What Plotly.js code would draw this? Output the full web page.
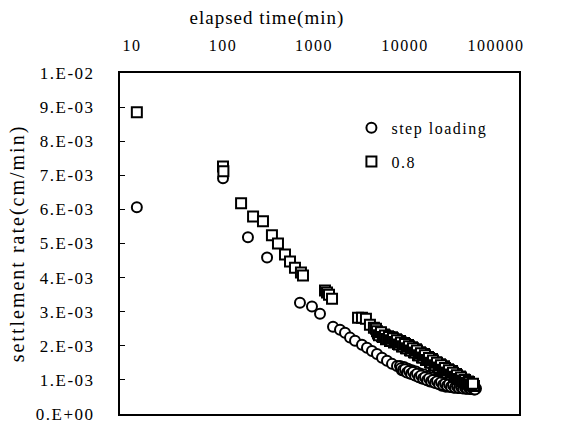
<!DOCTYPE html>
<html>
<head>
<meta charset="utf-8">
<script src="https://cdn.plot.ly/plotly-3.0.1.min.js"></script>
<style>
html,body{margin:0;padding:0;background:#fff;}
#chart{width:562px;height:426px;}
.xtick text,.ytick text,.legendtext{letter-spacing:1.5px;}
.gtitle{letter-spacing:1px;}
.ytitle{letter-spacing:2px;}
</style>
</head>
<body>
<div id="chart"></div>
<script>
// elapsed time (min) and settlement rate (cm/min)
const stepTime = [11.3, 100, 188, 305, 701, 950, 1164,
  1618, 1931, 2192, 2488, 2825, 3367, 3822, 4338, 4924, 5589, 6344, 7200, 8172,
  8812, 9268, 9750, 10257, 10789, 11349, 11938, 12558, 13210, 13896,
  14617, 15376, 16174, 17014, 17897, 18826, 19804, 20832, 21913, 23050,
  24247, 25506, 26830, 28223, 29688, 31230, 32851, 34556, 36350, 38237,
  40222, 42300, 44500, 46800, 49200, 51800, 54500, 57300, 60300,
  9038, 9506, 10000, 10521, 11066, 11640, 12244, 12880, 13549, 14252,
  14992, 15770, 16589, 17450, 18356, 19309, 20312, 21366, 22475, 23642,
  24870, 26161, 27519, 28947, 30450, 32031, 33694, 35443, 37283, 39218,
  41254, 43396, 45649, 48019, 50512, 53134, 55893, 58795];
const stepRate = [0.00606, 0.00691, 0.00518, 0.00459, 0.00326, 0.00315, 0.00294,
  0.00256, 0.00247, 0.00238, 0.00224, 0.00215, 0.00203, 0.00194, 0.00185, 0.00176, 0.00165, 0.00156, 0.00147, 0.00141,
  0.00141, 0.00128, 0.00138, 0.00124, 0.00133, 0.00119, 0.00128, 0.00116, 0.00125, 0.00110,
  0.00119, 0.00104, 0.00116, 0.00101, 0.00110, 0.00095, 0.00107, 0.00092, 0.00101, 0.00089,
  0.00098, 0.00083, 0.00095, 0.00080, 0.00092, 0.00079, 0.00088, 0.00077, 0.00085, 0.00076,
  0.00082, 0.00076, 0.00081, 0.00074, 0.00079, 0.00073, 0.00077, 0.00072, 0.00075,
  0.00134, 0.00129, 0.00131, 0.00122, 0.00126, 0.00118, 0.00123, 0.00113, 0.00118, 0.00108,
  0.00113, 0.00104, 0.00108, 0.00099, 0.00104, 0.00096, 0.00100, 0.00092, 0.00096, 0.00088,
  0.00093, 0.00085, 0.00089, 0.00083, 0.00087, 0.00080, 0.00084, 0.00078, 0.00081, 0.00076,
  0.00079, 0.00075, 0.00078, 0.00074, 0.00076, 0.00073, 0.00075, 0.00072];

const r08Time = [11.3, 100, 101, 158, 214, 275, 345, 402, 480, 545, 618, 719, 757,
  1321, 1390, 1462, 1578,
  3048, 3367, 3724, 4120, 4557,
  4800, 5050, 5313, 5589, 5877, 6183, 6504, 6843, 7197, 7571, 7963, 8377,
  8812, 9268, 9750, 10257, 10789, 11349, 11938, 12558, 13210, 13896,
  14617, 15376, 16174, 17014, 17897, 18826, 19804, 20832, 21913, 23050,
  24247, 25506, 26830, 28223, 29688, 31230, 32851, 34556, 36350, 38237,
  40222, 42300, 44500, 46800, 49200, 51800, 54500, 57300,
  4923, 5179, 5449, 5732, 6028, 6341, 6671, 7018, 7381, 7766,
  8167, 8592, 9038, 9506, 10000, 10521, 11066, 11640, 12244, 12880,
  13549, 14252, 14992, 15770, 16589, 17450, 18356, 19309, 20312, 21366,
  22475, 23642, 24870, 26161, 27519, 28947, 30450, 32031, 33694, 35443,
  37283, 39218, 41254, 43396, 45649, 48019, 50512, 53134, 55893];
const r08Rate = [0.00885, 0.00726, 0.00712, 0.00618, 0.00579, 0.00565, 0.00524, 0.00500, 0.00468, 0.00447, 0.00429, 0.00415, 0.00406,
  0.00362, 0.00356, 0.00350, 0.00338,
  0.00282, 0.00282, 0.00279, 0.00262, 0.00253,
  0.00250, 0.00236, 0.00238, 0.00228, 0.00233, 0.00219, 0.00228, 0.00214, 0.00225, 0.00210, 0.00219, 0.00205,
  0.00214, 0.00198, 0.00208, 0.00193, 0.00202, 0.00187, 0.00196, 0.00181, 0.00190, 0.00172,
  0.00181, 0.00166, 0.00176, 0.00158, 0.00167, 0.00152, 0.00161, 0.00143, 0.00152, 0.00137,
  0.00146, 0.00131, 0.00140, 0.00122, 0.00131, 0.00117, 0.00126, 0.00108, 0.00117, 0.00102,
  0.00110, 0.00097, 0.00101, 0.00089, 0.00095, 0.00084, 0.00088, 0.00082,
  0.00243, 0.00231, 0.00240, 0.00226, 0.00230, 0.00220, 0.00226, 0.00216, 0.00222, 0.00211,
  0.00216, 0.00204, 0.00210, 0.00199, 0.00205, 0.00193, 0.00199, 0.00186, 0.00193, 0.00180,
  0.00186, 0.00172, 0.00178, 0.00166, 0.00172, 0.00158, 0.00164, 0.00150, 0.00157, 0.00143,
  0.00150, 0.00136, 0.00143, 0.00130, 0.00135, 0.00122, 0.00128, 0.00116, 0.00121, 0.00109,
  0.00114, 0.00103, 0.00107, 0.00098, 0.00100, 0.00092, 0.00094, 0.00087, 0.00089];

const xTickVals = [10, 100, 1000, 10000, 100000];
const xTickText = ['10', '100', '1000', '10000', '100000'];
const yTickVals = [0, 0.001, 0.002, 0.003, 0.004, 0.005, 0.006, 0.007, 0.008, 0.009, 0.01];
const yTickText = ['0.E+00', '1.E-03', '2.E-03', '3.E-03', '4.E-03', '5.E-03', '6.E-03', '7.E-03', '8.E-03', '9.E-03', '1.E-02'];

const FONT = "'Liberation Serif', 'Times New Roman', serif";

const traces = [
  {x: stepTime, y: stepRate, type: 'scatter', mode: 'markers', name: 'step loading', legendgroup: 'a',
   marker: {symbol: 'circle', size: 10, color: '#fff', line: {color: '#000', width: 2}}},
  {x: r08Time, y: r08Rate, type: 'scatter', mode: 'markers', name: '0.8', legendgroup: 'b',
   marker: {symbol: 'square', size: 10, color: '#fff', line: {color: '#000', width: 2}}}
];

const layout = {
  width: 562, height: 426,
  margin: {l: 120, r: 43, t: 73, b: 12},
  paper_bgcolor: '#fff', plot_bgcolor: '#fff',
  font: {family: FONT, size: 16, color: '#000'},
  title: {text: 'elapsed time(min)', xref: 'container', yref: 'container', x: 0.475, xanchor: 'center', y: 0.96, yanchor: 'middle',
          font: {family: FONT, size: 19, color: '#000'}},
  showlegend: true,
  legend: {x: 0.58, y: 0.889, xanchor: 'left', yanchor: 'top', bgcolor: 'rgba(0,0,0,0)',
           font: {family: FONT, size: 16, color: '#000'}, tracegroupgap: 10},
  xaxis: {type: 'log', side: 'top', range: [0.868, 5.253], tickvals: xTickVals, ticktext: xTickText,
          ticks: '', showgrid: false, zeroline: false, showline: true, mirror: true, linecolor: '#000', linewidth: 2,
          ticklabelstandoff: 14, tickfont: {family: FONT, size: 16, color: '#000'}},
  yaxis: {range: [0, 0.01], tickvals: yTickVals, ticktext: yTickText, ticks: 'inside', ticklen: 5, tickwidth: 1, tickcolor: '#000',
          showgrid: false, zeroline: false, showline: true, mirror: true, linecolor: '#000', linewidth: 2,
          ticklabelstandoff: 20, tickfont: {family: FONT, size: 17, color: '#000'},
          title: {text: 'settlement rate(cm/min)', standoff: 6, font: {family: FONT, size: 20, color: '#000'}}}
};

Plotly.newPlot('chart', traces, layout, {displayModeBar: false, staticPlot: true});
</script>
</body>
</html>
